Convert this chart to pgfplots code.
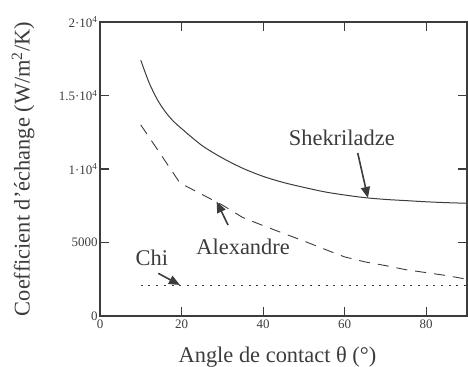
\documentclass[border=0pt]{standalone}
\usepackage{pgfplots}
\pgfplotsset{compat=1.18}
\usepackage{fontspec}
\setmainfont{Liberation Serif}
\usetikzlibrary{arrows.meta}

\definecolor{ink}{HTML}{3C3C3C}

\begin{document}
\begin{tikzpicture}
\begin{axis}[
    scale only axis,
    width=367bp, height=294bp,
    xmin=0, xmax=90, ymin=0, ymax=20000,
    xtick={0,20,40,60,80}, xticklabels={0,20,40,60,80},
    ytick={0,5000,10000,15000,20000},
    yticklabels={0,5000,1·10\textsuperscript{4},1.5·10\textsuperscript{4},2·10\textsuperscript{4}},
    scaled ticks=false,
    tick align=inside,
    major tick length=9bp,
    axis line style={ink, line width=1.2bp},
    every tick/.style={ink, line width=1.1bp},
    tick label style={font=\fontsize{13}{15}\selectfont, text=ink},
    yticklabel style={xshift=1bp},
    xlabel={Angle de contact θ (°)},
    ylabel={Coefficient d’échange (W/m\textsuperscript{2}/K)},
    every axis x label/.style={at={([xshift=-6bp,yshift=-41bp]axis description cs:0.5,0)}, anchor=center,
        font=\fontsize{22.5}{26}\selectfont, text=ink},
    every axis y label/.style={at={([xshift=-77bp]axis description cs:0,0.5)}, anchor=center, rotate=90,
        font=\fontsize{22.5}{26}\selectfont, text=ink},
]
% Shekriladze
\addplot[ink, line width=1bp, smooth] coordinates {
    (10,17400) (12,15900) (14,14750) (16,13900) (18,13250) (20,12750)
    (25,11600) (30,10750) (35,10050) (40,9500) (45,9080) (50,8750)
    (55,8450) (60,8230) (65,8050) (70,7930) (75,7850) (80,7770)
    (85,7710) (90,7670)
};
% Alexandre
\addplot[ink, line width=0.9bp, dash pattern=on 11bp off 8bp] coordinates {
    (10,13000) (15,10950) (19.6,9050) (25,8270) (30,7550) (35,6700)
    (40,6150) (45,5620) (50,5100) (55,4550) (60,4020) (65,3680)
    (70,3430) (75,3150) (80,2950) (85,2750) (90,2500)
};
% Chi
\addplot[ink, line width=1.2bp, dash pattern=on 2bp off 5.7bp] coordinates {
    (10,2100) (90,2100)
};

\node[text=ink, font=\fontsize{22.5}{26}\selectfont] at (axis cs:59.3,12110) {Shekriladze};
\draw[ink, line width=1.6bp, -{Triangle[length=11bp,width=9bp]}] (axis cs:63.2,11090) -- (axis cs:65.7,8030);

\node[text=ink, font=\fontsize{22.5}{26}\selectfont] at (axis cs:35.1,4710) {Alexandre};
\draw[ink, line width=1.6bp, -{Triangle[length=11bp,width=9bp]}] (axis cs:31.4,6190) -- (axis cs:28.6,7780);

\node[text=ink, font=\fontsize{22.5}{26}\selectfont] at (axis cs:12.7,3930) {Chi};
\draw[ink, line width=1.6bp, -{Triangle[length=11bp,width=9bp]}] (axis cs:14.3,2900) -- (axis cs:19.6,2110);
\end{axis}
\pgfresetboundingbox
\path (-100bp,-51bp) rectangle (368bp,316bp);
\end{tikzpicture}
\end{document}
